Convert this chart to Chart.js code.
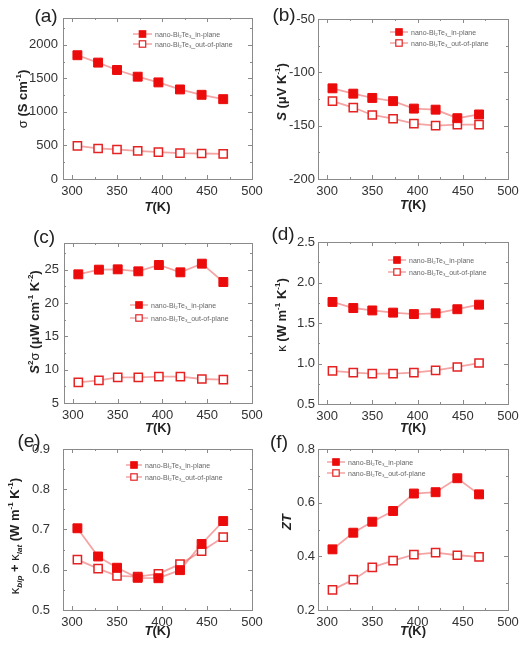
<!DOCTYPE html>
<html>
<head>
<meta charset="utf-8">
<script src="https://cdn.jsdelivr.net/npm/chart.js@4.4.0/dist/chart.umd.min.js"></script>
<style>
  html, body { margin: 0; padding: 0; background: #fff; }
  #wrap { position: relative; width: 531px; height: 652px; }
  #wrap canvas { position: absolute; left: 0; top: 0; }
</style>
</head>
<body>
<div id="wrap"></div>
<script>
// temperatures (K) shared by all six panels
const temps = [306, 329, 350, 373, 396, 420, 444, 468];

// (a) electrical conductivity, S/cm
const sigmaIn = [1845, 1735, 1625, 1525, 1440, 1335, 1255, 1190];
const sigmaOut = [495, 455, 440, 420, 400, 385, 380, 375];
// (b) Seebeck coefficient, uV/K
const seebIn = [-115, -120, -124, -127, -134, -135, -143, -139.5];
const seebOut = [-127, -133, -140, -143.5, -148, -150, -149, -149];
// (c) power factor, uW cm-1 K-2
const pfIn = [24.3, 25.0, 25.05, 24.75, 25.7, 24.6, 25.9, 23.15];
const pfOut = [8.1, 8.4, 8.85, 8.85, 8.95, 8.95, 8.6, 8.5];
// (d) thermal conductivity, W m-1 K-1
const kapIn = [1.76, 1.685, 1.655, 1.628, 1.61, 1.62, 1.67, 1.726];
const kapOut = [0.91, 0.887, 0.875, 0.875, 0.887, 0.915, 0.957, 1.006];
// (e) bipolar + lattice thermal conductivity
const kbIn = [0.703, 0.633, 0.605, 0.580, 0.579, 0.599, 0.664, 0.721];
const kbOut = [0.625, 0.603, 0.585, 0.583, 0.590, 0.614, 0.646, 0.681];
// (f) figure of merit
const ztIn = [0.426, 0.488, 0.529, 0.569, 0.634, 0.639, 0.691, 0.631];
const ztOut = [0.275, 0.313, 0.359, 0.384, 0.406, 0.414, 0.404, 0.398];

// tick labels
const tempTicks = [300, 350, 400, 450, 500];
const sigmaTicks = [0, 500, 1000, 1500, 2000];
const seebTicks = [-200, -150, -100, -50];
const pfTicks = [5, 10, 15, 20, 25];
const kapTicks = [0.5, 1.0, 1.5, 2.0, 2.5];
const kbTicks = [0.5, 0.6, 0.7, 0.8, 0.9];
const ztTicks = [0.2, 0.4, 0.6, 0.8];

const seriesNames = ['in-plane', 'out-of-plane'];

const FONT = '"Liberation Sans", Arial, sans-serif';
const W = 531, H = 652;
const LINE = 'rgba(236, 90, 90, 0.55)';
const RED = '#ec0b0b';

// draws a run of text pieces (italic / sup / sub) centred or left aligned
function drawRich(ctx, segs, x, y, size, angle, left, color) {
    ctx.save();
    ctx.translate(x, y);
    ctx.rotate(angle || 0);
    ctx.textAlign = 'left';
    ctx.textBaseline = 'alphabetic';
    ctx.fillStyle = color || '#222';
    const parts = segs.map(s => {
        const small = s.sup || s.sub;
        const fs = small ? size * 0.62 : size;
        const font = (s.i ? 'italic ' : '') + (s.n ? '' : 'bold ') + fs + 'px ' + FONT;
        ctx.font = font;
        return { s, font, w: ctx.measureText(s.t).width, dy: s.sup ? -size * 0.42 : s.sub ? size * 0.22 : 0 };
    });
    const total = parts.reduce((a, p) => a + p.w, 0);
    let cx = left ? 0 : -total / 2;
    parts.forEach(p => {
        ctx.font = p.font;
        ctx.fillText(p.s.t, cx, size * 0.36 + p.dy);
        cx += p.w;
    });
    ctx.restore();
}

// frame with inward major/minor ticks on all four sides
const framePlugin = {
    id: 'frame',
    beforeDatasetsDraw(chart) {
        const { ctx, chartArea: a, scales } = chart;
        ctx.save();
        ctx.strokeStyle = '#8a8a8a';
        ctx.lineWidth = 1;
        ctx.strokeRect(a.left + 0.5, a.top + 0.5, a.right - a.left, a.bottom - a.top);
        const tick = (x1, y1, x2, y2) => { ctx.beginPath(); ctx.moveTo(x1, y1); ctx.lineTo(x2, y2); ctx.stroke(); };
        [scales.x, scales.y].forEach(s => {
            const vals = s.ticks.map(t => t.value);
            const step = vals[1] - vals[0];
            for (let v = vals[0] - step; v <= s.max + 1e-9; v += step / 2) {
                if (v < s.min - 1e-9) continue;
                const major = vals.some(t => Math.abs(t - v) < step * 0.01);
                const len = major ? 4 : 2;
                const p = Math.round(s.getPixelForValue(v)) + 0.5;
                if (s.axis === 'x') {
                    tick(p, a.bottom, p, a.bottom - len);
                    tick(p, a.top, p, a.top + len);
                } else {
                    tick(a.left, p, a.left + len, p);
                    tick(a.right, p, a.right - len, p);
                }
            }
        });
        ctx.restore();
    },
    afterDraw(chart) {
        const p = chart.options.plugins.panel;
        const { ctx, chartArea: a } = chart;
        // panel letter
        ctx.save();
        ctx.fillStyle = '#222';
        ctx.font = '19px ' + FONT;
        ctx.textAlign = 'center';
        ctx.textBaseline = 'middle';
        ctx.fillText(p.tag, p.tagPos[0], p.tagPos[1]);
        ctx.restore();
        // axis titles
        drawRich(ctx, [{ t: 'T', i: true }, { t: '(K)' }], (a.left + a.right) / 2, p.xTitleY, 13);
        drawRich(ctx, p.yTitle, p.yTitlePos[0], p.yTitlePos[1], 13, -Math.PI / 2);
        // legend
        const lg = p.legend;
        chart.data.datasets.forEach((ds, i) => {
            const y = lg.rows[i];
            ctx.save();
            ctx.strokeStyle = LINE;
            ctx.lineWidth = 1.5;
            ctx.beginPath(); ctx.moveTo(lg.x0, y); ctx.lineTo(lg.x1, y); ctx.stroke();
            const m = (lg.x0 + lg.x1) / 2, h = 3.2;
            ctx.fillStyle = ds.pointBackgroundColor;
            ctx.strokeStyle = ds.pointBorderColor;
            ctx.lineWidth = 1.2;
            ctx.fillRect(m - h, y - h, 2 * h, 2 * h);
            ctx.strokeRect(m - h, y - h, 2 * h, 2 * h);
            ctx.restore();
            drawRich(ctx, [{ t: 'nano-Bi', n: true }, { t: '2', sub: true, n: true }, { t: 'Te', n: true },
                { t: '3', sub: true, n: true }, { t: '_' + seriesNames[i], n: true }], lg.x1 + 3, y, 7, 0, true, '#666');
        });
    }
};

function makePanel(p) {
    const canvas = document.createElement('canvas');
    canvas.width = W;
    canvas.height = H;
    document.getElementById('wrap').appendChild(canvas);
    const pts = arr => temps.map((t, i) => ({ x: t, y: arr[i] }));
    const tickFont = { family: FONT, size: 13 };
    new Chart(canvas, {
        type: 'line',
        data: {
            datasets: [{
                data: pts(p.inVals),
                borderColor: LINE,
                borderWidth: 1.8,
                pointStyle: 'rect',
                pointRadius: 6.3,
                pointBackgroundColor: RED,
                pointBorderColor: RED,
                pointBorderWidth: 1
            }, {
                data: pts(p.outVals),
                borderColor: LINE,
                borderWidth: 1.8,
                pointStyle: 'rect',
                pointRadius: 5.8,
                pointBackgroundColor: '#ffffff',
                pointBorderColor: '#e52222',
                pointBorderWidth: 1.5
            }]
        },
        options: {
            responsive: false,
            animation: false,
            layout: { padding: { left: 0, top: p.box.t, right: W - p.box.r, bottom: 0 } },
            plugins: { legend: { display: false }, tooltip: { enabled: false }, panel: p },
            scales: {
                x: {
                    type: 'linear', min: 290, max: 500,
                    grid: { display: false, drawTicks: false }, border: { display: false },
                    afterBuildTicks: s => { s.ticks = tempTicks.map(v => ({ value: v })); },
                    afterFit: s => { s.height = H - p.box.b; },
                    ticks: { padding: 5, color: '#333', font: tickFont, maxRotation: 0, autoSkip: false }
                },
                y: {
                    type: 'linear', min: p.yMin, max: p.yMax,
                    grid: { display: false, drawTicks: false }, border: { display: false },
                    afterBuildTicks: s => { s.ticks = p.yTicks.map(v => ({ value: v })); },
                    afterFit: s => { s.width = p.box.l; },
                    ticks: { padding: p.tickPad, color: '#333', font: tickFont, autoSkip: false,
                        callback: v => p.dec ? v.toFixed(p.dec) : String(v) }
                }
            }
        },
        plugins: [framePlugin]
    });
}

const kUnit = [{ t: ' (W m' }, { t: '-1', sup: true }, { t: ' K' }, { t: '-1', sup: true }, { t: ')' }];

makePanel({
    tag: '(a)', tagPos: [46, 17], box: { l: 63, t: 18, r: 252, b: 179 }, tickPad: 5,
    inVals: sigmaIn, outVals: sigmaOut, yMin: 0, yMax: 2400, yTicks: sigmaTicks, dec: 0,
    xTitleY: 206, yTitlePos: [22, 99],
    yTitle: [{ t: 'σ', n: true }, { t: ' (S cm' }, { t: '-1', sup: true }, { t: ')' }],
    legend: { x0: 133, x1: 152, rows: [34, 44] }
});
makePanel({
    tag: '(b)', tagPos: [284, 16], box: { l: 318, t: 19, r: 508, b: 179 }, tickPad: 3,
    inVals: seebIn, outVals: seebOut, yMin: -200, yMax: -50, yTicks: seebTicks, dec: 0,
    xTitleY: 204, yTitlePos: [281, 92],
    yTitle: [{ t: 'S', i: true }, { t: ' (μV K' }, { t: '-1', sup: true }, { t: ')' }],
    legend: { x0: 390, x1: 408, rows: [32, 43] }
});
makePanel({
    tag: '(c)', tagPos: [44, 238], box: { l: 64, t: 243, r: 252, b: 403 }, tickPad: 5,
    inVals: pfIn, outVals: pfOut, yMin: 5, yMax: 29, yTicks: pfTicks, dec: 0,
    xTitleY: 427, yTitlePos: [34, 322],
    yTitle: [{ t: 'S', i: true }, { t: '2', sup: true }, { t: 'σ', n: true }, { t: ' (μW cm' }, { t: '-1', sup: true },
        { t: ' K' }, { t: '-2', sup: true }, { t: ')' }],
    legend: { x0: 130, x1: 148, rows: [305, 318] }
});
makePanel({
    tag: '(d)', tagPos: [283, 235], box: { l: 318, t: 242, r: 508, b: 404 }, tickPad: 3,
    inVals: kapIn, outVals: kapOut, yMin: 0.5, yMax: 2.5, yTicks: kapTicks, dec: 1,
    xTitleY: 427, yTitlePos: [281, 315],
    yTitle: [{ t: 'κ', n: true }].concat(kUnit),
    legend: { x0: 388, x1: 406, rows: [260, 272] }
});
makePanel({
    tag: '(e)', tagPos: [29, 442], box: { l: 63, t: 449, r: 252, b: 610 }, tickPad: 13,
    inVals: kbIn, outVals: kbOut, yMin: 0.5, yMax: 0.9, yTicks: kbTicks, dec: 1,
    xTitleY: 630, yTitlePos: [14, 536],
    yTitle: [{ t: 'κ', n: true }, { t: 'bip', sub: true, i: true }, { t: ' + ' }, { t: 'κ', n: true },
        { t: 'lat', sub: true, i: true }].concat(kUnit),
    legend: { x0: 126, x1: 142, rows: [465, 477] }
});
makePanel({
    tag: '(f)', tagPos: [279, 443], box: { l: 318, t: 449, r: 508, b: 610 }, tickPad: 3,
    inVals: ztIn, outVals: ztOut, yMin: 0.2, yMax: 0.8, yTicks: ztTicks, dec: 1,
    xTitleY: 630, yTitlePos: [286, 522],
    yTitle: [{ t: 'ZT', i: true }],
    legend: { x0: 327, x1: 345, rows: [462, 473] }
});
</script>
</body>
</html>
